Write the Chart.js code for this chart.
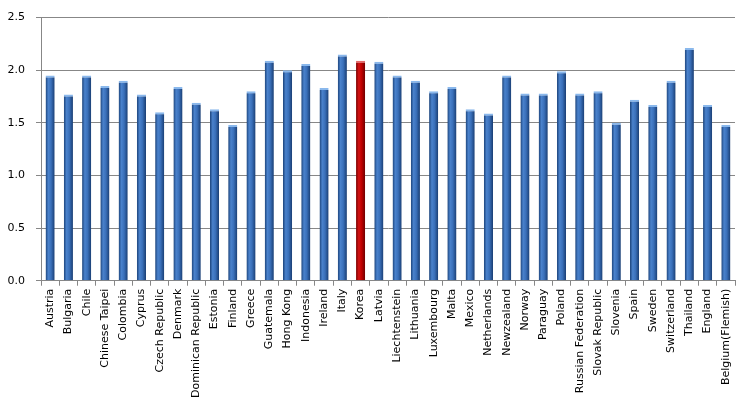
<!DOCTYPE html>
<html>
<head>
<meta charset="utf-8">
<script src="https://cdn.jsdelivr.net/npm/chart.js@4"></script>
<style>
  html, body { margin: 0; padding: 0; background: #fff; }
  #wrap { width: 750px; height: 405px; position: relative; }
</style>
</head>
<body>
<div id="wrap"><canvas id="chart"></canvas></div>
<script>
const countries = [
  "Austria", "Bulgaria", "Chile", "Chinese Taipei", "Colombia", "Cyprus",
  "Czech Republic", "Denmark", "Dominican Republic", "Estonia", "Finland",
  "Greece", "Guatemala", "Hong Kong", "Indonesia", "Ireland", "Italy", "Korea",
  "Latvia", "Liechtenstein", "Lithuania", "Luxembourg", "Malta", "Mexico",
  "Netherlands", "Newzealand", "Norway", "Paraguay", "Poland",
  "Russian Federation", "Slovak Republic", "Slovenia", "Spain", "Sweden",
  "Switzerland", "Thailand", "England", "Belgium(Flemish)"
];
const scores = [
  1.95, 1.77, 1.95, 1.85, 1.90, 1.77,
  1.60, 1.84, 1.69, 1.63, 1.48,
  1.80, 2.09, 2.00, 2.06, 1.83, 2.15, 2.09,
  2.08, 1.95, 1.90, 1.80, 1.84, 1.63,
  1.59, 1.95, 1.78, 1.78, 1.99,
  1.78, 1.80, 1.50, 1.72, 1.67,
  1.90, 2.21, 1.67, 1.48
];
const highlight = "Korea";
const yTicks = [0, 0.5, 1.0, 1.5, 2.0, 2.5];

const BAR_PCT = 0.5;

const isRed = (i) => countries[i] === highlight;

// horizontal gradient across each bar, like the old Excel bevel look
function barFill(ctx) {
  const red = isRed(ctx.dataIndex);
  const flat = red ? "#c00000" : "#3a70b8";
  const xs = ctx.chart.scales.x;
  if (!xs || ctx.dataIndex === undefined) return flat;
  const cx = xs.getPixelForValue(ctx.dataIndex);
  const w = (xs.width / countries.length) * BAR_PCT;
  if (!isFinite(cx) || !isFinite(w) || w <= 0) return flat;
  const g = ctx.chart.ctx.createLinearGradient(cx - w / 2, 0, cx + w / 2, 0);
  if (red) {
    g.addColorStop(0, "#780000");
    g.addColorStop(0.3, "#d41212");
    g.addColorStop(0.6, "#c00000");
    g.addColorStop(1, "#6e0000");
  } else {
    g.addColorStop(0, "#1b4279");
    g.addColorStop(0.3, "#4a82cc");
    g.addColorStop(0.6, "#3a70ba");
    g.addColorStop(1, "#193d72");
  }
  return g;
}

Chart.defaults.font.family = "'DejaVu Sans', sans-serif";
Chart.defaults.font.size = 11;
Chart.defaults.color = "#000";

new Chart(document.getElementById("chart"), {
  type: "bar",
  data: {
    labels: countries,
    datasets: [{
      data: scores,
      backgroundColor: barFill,
      borderColor: (ctx) => (isRed(ctx.dataIndex) ? "#e46a6a" : "#8ab8ec"),
      borderWidth: { top: 2, left: 0, right: 0, bottom: 0 },
      borderSkipped: "bottom",
      barPercentage: BAR_PCT,
      categoryPercentage: 1.0,
    }],
  },
  options: {
    responsive: true,
    maintainAspectRatio: false,
    animation: false,
    devicePixelRatio: 1,
    layout: { padding: { top: 4, right: 15, left: 0, bottom: 4 } },
    plugins: { legend: { display: false }, tooltip: { enabled: false } },
    scales: {
      y: {
        min: 0,
        max: 2.5,
        afterBuildTicks: (axis) => { axis.ticks = yTicks.map((v) => ({ value: v })); },
        afterFit: (axis) => { axis.width = 41; },
        ticks: { padding: 11, callback: (v) => Number(v).toFixed(1) },
        grid: { color: "#878787", tickLength: 5, lineWidth: 1 },
        border: { color: "#878787" },
      },
      x: {
        afterFit: (axis) => { axis.paddingLeft = 0; axis.paddingRight = 0; },
        ticks: { minRotation: 90, maxRotation: 90, autoSkip: false, padding: 3 },
        grid: { drawOnChartArea: false, offset: true, tickLength: 5, color: "#878787" },
        border: { color: "#878787" },
      },
    },
  },
});
</script>
</body>
</html>
